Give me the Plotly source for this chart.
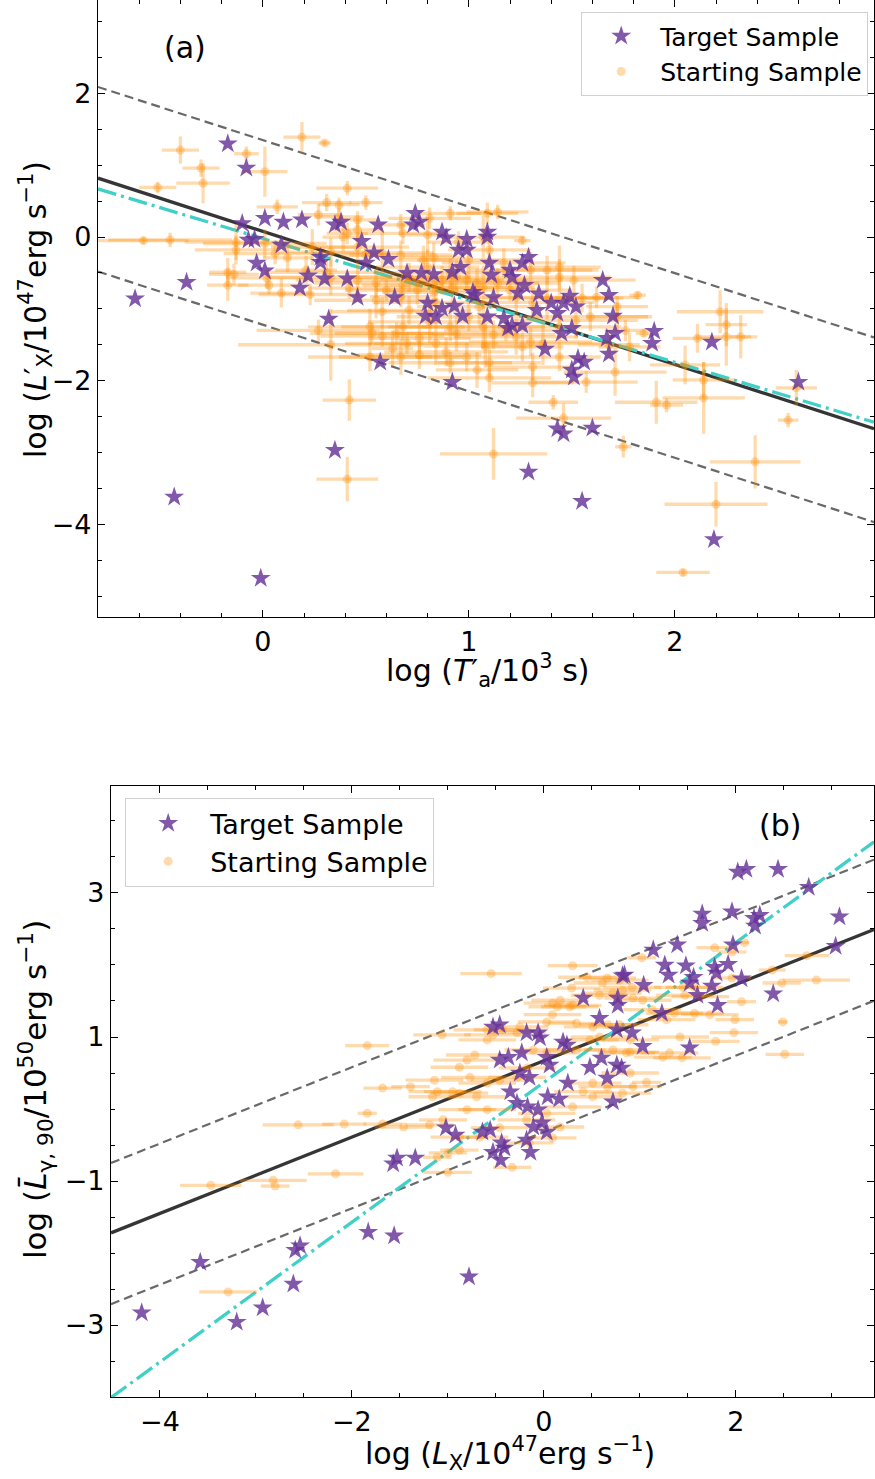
import numpy as np
import plotly.graph_objects as go

# ---------------- Panel (a) data ----------------
a_start_x = [-0.40,-0.30,-0.29,-0.51,-0.58,-0.08,0.01,0.19,0.30,0.41,
             0.07,0.31,0.37,0.50,-0.17,-0.17,-0.14,0.02,0.03,0.09,
             0.06,0.01,0.21,0.23,0.27,0.50,0.41,0.37,0.58,0.53,
             0.65,0.60,0.27,0.46,0.39,0.46,0.67,0.68,0.91,0.80,
             0.12,0.42,0.67,0.68,0.75,0.83,0.78,0.83,0.33,0.58,
             0.70,0.76,0.42,0.41,0.63,1.12,1.41,1.46,1.75,1.10,
             1.31,1.57,1.71,1.91,1.96,2.05,2.14,2.14,2.39,2.20,
             2.04,2.55,2.59,2.11,2.25,2.32,2.22,2.25,1.82,1.76,
             1.26,1.14,1.09,0.95,1.55,1.62,1.72,1.72,1.85,1.68,
             1.78,1.26,1.31,1.08,1.44,
             0.91,0.94,0.99,1.04,1.07,1.14,1.20,1.23,1.31,1.38,
             1.05,1.00,1.07,1.12,1.18,1.23,1.30,1.36,1.44,1.52,
             1.59,1.44,1.51,1.44,1.38,1.30,1.10,1.07,1.00,1.17,
             0.99,1.04,1.10,0.91,0.52,0.68,0.81,0.91,0.55,0.71,
             0.84,0.87,0.92,0.71,0.80,0.58,0.67,0.46,0.55,0.31,
             0.33,0.52,0.67,0.76,0.84,0.89,0.94,0.33,0.24,0.46,
             -0.13,-0.13,-0.45,0.81]
a_start_y = [1.21,0.96,0.75,0.69,-0.05,1.16,0.91,1.39,1.31,0.68,
             0.42,0.48,0.45,0.48,-0.49,-0.67,-0.52,-0.57,-0.67,-0.78,
             -0.23,-0.09,-0.46,-0.80,-1.30,-0.25,0.05,0.28,-1.04,-1.34,
             -1.34,-0.74,0.31,0.24,0.00,0.10,0.17,0.05,0.33,0.03,
             -0.29,-0.71,-0.83,-0.67,-0.74,-0.77,-0.32,-0.28,-1.50,-1.38,
             -1.48,-1.41,-2.27,-3.37,-1.55,-3.02,-2.30,-2.52,-2.92,-1.96,
             -2.03,-2.02,-1.88,-2.30,-2.34,-1.78,-1.99,-2.24,-3.13,-3.72,
             -4.67,-2.55,-2.10,-1.41,-1.39,-1.39,-1.04,-1.22,-0.81,-1.30,
             -0.05,0.35,0.33,-0.07,-0.85,-0.84,-0.97,-1.11,-1.34,-1.50,
             -1.53,-1.53,-1.81,-1.52,-1.67,
             -0.50,-0.56,-0.60,-0.64,-0.70,-0.64,-0.74,-0.84,-0.91,-0.85,
             -0.97,-1.11,-1.25,-1.36,-1.30,-1.39,-1.46,-1.48,-1.25,-1.16,
             -1.11,-0.56,-0.60,-0.42,-0.46,-0.46,-0.18,0.00,-0.32,-0.36,
             -1.67,-1.85,-1.75,-1.75,-1.25,-1.25,-1.18,-1.25,-0.88,-1.02,
             -0.91,-0.60,-0.70,-0.56,-0.42,-0.22,-0.25,-0.60,-0.64,-0.49,
             -0.56,-1.67,-1.67,-1.64,-1.48,-1.60,-1.34,-0.21,-0.14,-0.14,
             -0.18,-0.07,-0.04,0.26]
a_start_xerr = [0.09,0.09,0.13,0.09,0.22,0.06,0.11,0.09,0.03,0.15,
                0.10,0.12,0.10,0.08,0.09,0.10,0.12,0.20,0.15,0.15,
                0.25,0.30,0.15,0.25,0.30,0.12,0.10,0.12,0.25,0.30,
                0.30,0.20,0.10,0.10,0.10,0.12,0.12,0.20,0.15,0.10,
                0.12,0.20,0.15,0.20,0.20,0.25,0.15,0.15,0.45,0.30,
                0.30,0.25,0.13,0.15,0.10,0.26,0.12,0.23,0.04,0.30,
                0.20,0.25,0.25,0.20,0.08,0.17,0.15,0.20,0.22,0.25,
                0.13,0.05,0.10,0.12,0.15,0.05,0.21,0.10,0.04,0.10,
                0.04,0.15,0.15,0.15,0.20,0.20,0.15,0.15,0.04,0.15,
                0.15,0.20,0.20,0.30,0.20,
                0.30,0.25,0.30,0.30,0.25,0.30,0.30,0.25,0.30,0.30,
                0.30,0.35,0.30,0.30,0.30,0.30,0.30,0.30,0.30,0.30,
                0.30,0.25,0.30,0.20,0.25,0.30,0.20,0.20,0.25,0.30,
                0.25,0.20,0.25,0.30,0.30,0.30,0.30,0.30,0.30,0.30,
                0.30,0.30,0.30,0.30,0.25,0.25,0.25,0.30,0.30,0.30,
                0.30,0.30,0.30,0.30,0.30,0.30,0.30,0.25,0.20,0.25,
                0.20,0.25,0.30,0.20]
a_start_yerr = [0.19,0.12,0.28,0.08,0.05,0.10,0.35,0.21,0.04,0.10,
                0.10,0.12,0.10,0.10,0.20,0.22,0.15,0.15,0.12,0.20,
                0.15,0.20,0.20,0.15,0.15,0.15,0.15,0.12,0.20,0.15,
                0.15,0.15,0.15,0.12,0.20,0.15,0.15,0.15,0.10,0.25,
                0.20,0.15,0.15,0.20,0.20,0.20,0.20,0.20,0.50,0.15,
                0.15,0.20,0.29,0.31,0.25,0.36,0.10,0.20,0.15,0.20,
                0.20,0.15,0.33,0.30,0.10,0.27,0.25,0.50,0.37,0.31,
                0.05,0.10,0.25,0.20,0.40,0.30,0.30,0.30,0.05,0.15,
                0.05,0.10,0.15,0.15,0.20,0.15,0.15,0.20,0.05,0.20,
                0.20,0.20,0.20,0.30,0.20,
                0.20,0.25,0.15,0.20,0.30,0.20,0.15,0.25,0.20,0.30,
                0.25,0.20,0.30,0.20,0.15,0.25,0.20,0.30,0.20,0.25,
                0.20,0.25,0.20,0.30,0.20,0.25,0.20,0.30,0.25,0.20,
                0.20,0.25,0.20,0.15,0.25,0.20,0.30,0.20,0.25,0.20,
                0.30,0.20,0.25,0.20,0.25,0.30,0.20,0.25,0.20,0.15,
                0.25,0.20,0.25,0.20,0.30,0.20,0.25,0.20,0.25,0.20,
                0.20,0.25,0.10,0.15]

a_target_x = [-0.62,-0.43,-0.37,-0.17,-0.08,-0.10,-0.07,-0.04,-0.03,0.01,
              -0.01,0.01,0.09,0.10,0.19,0.18,0.22,0.28,0.28,0.30,
              0.32,0.35,0.35,0.38,0.41,0.46,0.48,0.50,0.54,0.56,
              0.61,0.57,0.64,0.70,0.74,0.73,0.76,0.77,0.83,0.80,
              0.79,0.84,0.87,0.87,0.89,0.93,0.95,0.99,0.99,0.96,
              0.92,0.92,1.09,1.09,1.10,1.11,1.29,1.26,1.20,1.21,
              1.27,1.24,1.02,1.03,1.12,0.97,1.09,1.17,1.21,1.26,
              1.19,1.34,1.33,1.40,1.43,1.46,1.49,1.52,1.45,1.50,
              1.65,1.68,1.70,1.71,1.67,1.68,1.37,1.53,1.56,1.50,
              1.51,1.90,1.89,2.18,1.43,1.46,1.60,1.29,1.55,2.60,
              2.19]
a_target_y = [-0.86,-3.62,-0.63,1.30,0.96,0.19,-0.04,-0.03,-0.36,-0.47,
              -4.75,0.26,-0.11,0.21,0.24,-0.71,-0.54,-0.35,-0.28,-0.58,
              -1.14,-2.97,0.17,0.21,-0.58,-0.84,-0.06,-0.36,-0.22,0.17,
              -0.31,-1.74,-0.84,-0.50,0.33,0.17,0.21,-0.50,-0.52,-0.92,
              -1.10,-1.11,-0.99,0.07,-0.01,-0.96,-0.18,-0.18,-0.03,-0.42,
              -0.49,-2.02,0.07,0.00,-0.36,-0.53,-0.28,-0.36,-0.46,-0.56,
              -0.67,-0.78,-0.77,-0.81,-0.84,-1.10,-1.11,-1.13,-1.23,-1.23,
              -1.27,-0.79,-1.02,-0.92,-1.06,-0.92,-0.82,-0.97,-1.34,-1.27,
              -0.60,-0.81,-1.10,-1.34,-1.41,-1.63,-1.56,-1.69,-1.74,-1.85,
              -1.95,-1.31,-1.48,-1.46,-2.67,-2.74,-2.66,-3.27,-3.68,-2.02,
              -4.21]

# fit parameters (a): slope, intercept, scatter band; cyan alternative fit
a_fit = dict(slope=-0.926, intercept=0.079, band_up=1.27, band_lo=1.30)
a_fit2 = dict(slope=-0.862, intercept=-0.02)

# ---------------- Panel (b) data ----------------
b_start_x = [-2.56,-2.08,-1.68,-1.46,-3.47,-2.82,-2.80,-2.17,-3.29,-1.11,
             -1.84,-1.68,-1.39,-1.84,-1.14,-1.11,-0.95,-0.55,0.30,-1.06,
             -0.88,-0.80,-0.72,-0.59,-0.59,-0.53,-0.43,-0.28,-0.25,0.03,
             0.09,0.14,0.27,0.30,0.09,0.17,0.29,0.45,0.61,0.79,
             0.58,0.72,0.82,0.34,0.51,0.67,0.79,-0.77,-0.59,-0.46,
             -0.28,-0.17,-0.88,-0.70,-0.80,-0.59,-1.16,-1.19,-1.05,-0.88,
             -0.67,-0.46,-0.18,0.03,0.17,0.09,-1.00,-0.88,-0.33,0.30,
             0.51,0.41,0.51,0.66,0.82,0.93,0.72,0.86,0.90,0.34,
             0.48,0.58,-0.11,0.03,1.78,2.09,1.02,2.74,2.38,2.48,
             2.84,1.96,2.06,2.49,2.51,1.98,1.99,1.79,1.42,1.44,
             1.31,1.24,1.07,0.90,0.90,1.57,1.73,1.36,1.28,1.13,
             1.03,0.93,1.45,1.57,1.47,1.63,0.92,0.66,1.96,-1.00,
             -0.15]
b_start_y = [-0.22,-0.21,-0.21,-0.25,-1.06,-0.99,-1.07,-0.90,-2.54,-0.67,
             0.88,0.29,0.31,-0.06,0.40,0.24,0.24,1.88,1.99,1.03,
             0.58,0.68,0.75,0.96,1.10,1.03,1.10,1.06,1.14,1.21,
             1.31,1.42,1.42,1.44,1.47,1.51,1.68,1.83,1.75,1.79,
             1.58,1.61,1.65,1.19,1.14,1.17,1.17,0.44,0.36,0.40,
             0.44,0.57,0.22,0.17,-0.01,-0.01,0.17,-0.22,-0.15,-0.39,
             -0.39,-0.26,-0.15,-0.06,-0.25,-0.40,-0.61,-0.57,-0.81,0.03,
             0.17,0.24,0.36,0.31,0.22,0.31,0.82,0.78,0.96,0.82,
             0.96,1.00,0.82,0.78,2.24,2.31,2.10,2.13,1.93,1.75,
             1.79,1.82,1.49,1.21,0.76,1.06,1.24,0.94,1.00,0.71,
             0.78,0.72,0.37,0.50,0.79,1.33,1.31,1.33,1.24,1.38,
             1.51,1.54,1.69,1.69,1.58,1.56,1.69,1.82,2.18,-0.88,
             -0.47]
b_start_xerr = [0.37,0.23,0.20,0.30,0.32,0.35,0.15,0.29,0.30,0.15,
                0.23,0.20,0.20,0.10,0.30,0.30,0.30,0.32,0.26,0.30,
                0.30,0.35,0.30,0.30,0.35,0.30,0.30,0.30,0.30,0.30,
                0.30,0.30,0.30,0.30,0.30,0.30,0.30,0.30,0.30,0.30,
                0.30,0.30,0.30,0.30,0.30,0.30,0.30,0.30,0.30,0.30,
                0.30,0.30,0.30,0.30,0.30,0.30,0.25,0.25,0.25,0.30,
                0.30,0.30,0.30,0.30,0.25,0.25,0.20,0.20,0.20,0.30,
                0.30,0.30,0.30,0.30,0.30,0.30,0.30,0.30,0.30,0.30,
                0.30,0.30,0.30,0.30,0.19,0.05,0.15,0.23,0.14,0.20,
                0.35,0.20,0.15,0.05,0.20,0.25,0.20,0.25,0.30,0.30,
                0.30,0.30,0.15,0.30,0.30,0.30,0.30,0.30,0.30,0.30,
                0.30,0.30,0.30,0.30,0.30,0.30,0.30,0.30,0.15,0.25,
                0.25]

b_target_x = [-4.19,-3.58,-3.20,-2.93,-2.61,-2.59,-2.54,-1.83,-1.56,-1.57,
              -1.53,-1.34,-0.78,-1.02,-0.92,-0.64,-0.56,-0.44,-0.41,-0.53,
              -0.45,-0.18,-0.14,-0.11,-0.02,0.03,-0.35,-0.28,-0.17,-0.06,
              0.04,0.16,0.25,-0.25,-0.15,-0.46,-0.37,-0.23,0.03,0.06,
              -0.53,-0.46,-0.18,-0.06,-0.04,0.20,0.24,0.41,0.58,0.77,
              0.77,0.84,0.48,0.60,0.66,0.76,0.81,0.72,0.76,2.02,
              2.11,2.44,2.76,3.08,1.65,1.65,1.96,2.19,2.25,2.20,
              1.97,3.04,1.14,1.39,1.26,1.30,1.48,1.56,1.52,1.78,
              1.80,1.92,1.75,2.06,1.81,1.60,1.04,0.82,1.23,2.39,
              1.52,1.03,0.92]
b_target_y = [-2.83,-2.13,-2.96,-2.76,-2.43,-1.96,-1.90,-1.71,-1.76,-0.76,
              -0.68,-0.68,-2.33,-0.26,-0.36,-0.32,-0.29,-0.47,-0.54,-0.60,
              -0.71,-0.43,-0.60,-0.25,-0.19,-0.32,0.24,0.08,0.03,-0.01,
              0.17,0.14,0.36,0.50,0.44,0.68,0.72,0.78,0.72,0.61,
              1.14,1.17,1.06,1.06,0.99,0.93,0.89,1.54,1.26,1.54,
              1.44,1.86,0.58,0.71,0.43,0.61,0.57,0.10,1.10,3.29,
              3.33,3.33,3.08,2.67,2.71,2.58,2.74,2.65,2.69,2.54,
              2.28,2.26,2.21,2.28,2.00,1.86,1.99,1.83,1.75,1.97,
              1.89,2.01,1.71,1.81,1.44,1.58,1.72,1.85,1.33,1.60,
              0.85,0.87,1.06]

b_fit = dict(slope=0.530, intercept=0.67, band_up=0.97, band_lo=0.99)
b_fit2 = dict(slope=0.971, intercept=0.37)

# axis ranges
a_xrange = [-0.80, 2.967]
a_yrange = [-5.29, 3.30]
b_xrange = [-4.51, 3.44]
b_yrange = [-4.00, 4.486]

# ---------------- styles ----------------
FONT = "DejaVu Sans"
PURPLE = "rgba(102,51,153,0.82)"
ORANGE = "rgba(255,140,0,0.32)"
BLACK = "rgba(25,25,25,0.88)"
GRAY = "rgb(105,105,105)"
CYAN = "rgb(64,208,200)"

fig = go.Figure()


def add_panel(xr, fit, fit2, start_x, start_y, start_xerr, start_yerr,
              tx, ty, xa, ya, legend):
    xl = np.linspace(xr[0], xr[1], 50)
    yc = fit["intercept"] + fit["slope"] * xl
    for off, dash, col, w in [(fit["band_up"], "9px,5px", GRAY, 2.2),
                              (-fit["band_lo"], "9px,5px", GRAY, 2.2),
                              (0, "solid", BLACK, 3.3)]:
        fig.add_trace(go.Scatter(x=xl, y=yc + off, mode="lines",
                                 line=dict(color=col, width=w, dash=dash),
                                 showlegend=False, xaxis=xa, yaxis=ya,
                                 hoverinfo="skip"))
    fig.add_trace(go.Scatter(x=xl, y=fit2["intercept"] + fit2["slope"] * xl,
                             mode="lines",
                             line=dict(color=CYAN, width=3.3, dash="19px,5px,3px,5px"),
                             showlegend=False, xaxis=xa, yaxis=ya, hoverinfo="skip"))
    ex = dict(type="data", array=start_xerr, color=ORANGE, thickness=3.3, width=0)
    ey = None
    if start_yerr is not None:
        ey = dict(type="data", array=start_yerr, color=ORANGE, thickness=3.3, width=0)
    fig.add_trace(go.Scatter(x=start_x, y=start_y, mode="markers",
                             marker=dict(symbol="circle", size=9, color=ORANGE,
                                         line=dict(width=0)),
                             error_x=ex, error_y=ey, name="Starting Sample",
                             xaxis=xa, yaxis=ya, legend=legend, legendrank=2))
    fig.add_trace(go.Scatter(x=tx, y=ty, mode="markers",
                             marker=dict(symbol="star", size=15, color=PURPLE,
                                         line=dict(width=0)),
                             name="Target Sample", xaxis=xa, yaxis=ya,
                             legend=legend, legendrank=1))


add_panel(a_xrange, a_fit, a_fit2, a_start_x, a_start_y,
          a_start_xerr, a_start_yerr, a_target_x, a_target_y, "x", "y", "legend")
add_panel(b_xrange, b_fit, b_fit2, b_start_x, b_start_y,
          b_start_xerr, None, b_target_x, b_target_y, "x2", "y2", "legend2")

W, H = 875, 1479


def ax(rng, dom, dtick, tick0, mdtick, anchor):
    return dict(range=rng, domain=dom, dtick=dtick, tick0=tick0, anchor=anchor,
                showline=True, linecolor="black", linewidth=1.3, mirror="allticks",
                ticks="inside", ticklen=7, tickwidth=1.3, tickcolor="black",
                showgrid=False, zeroline=False,
                tickfont=dict(family=FONT, size=27, color="black"),
                minor=dict(ticks="inside", ticklen=4, tickwidth=1.1,
                           tickcolor="black", dtick=mdtick, tick0=0, showgrid=False))


legend_common = dict(bgcolor="rgba(255,255,255,0.8)", bordercolor="#d0d0d0",
                     borderwidth=1.2, traceorder="normal", tracegroupgap=0)

fig.update_layout(
    width=W, height=H, margin=dict(l=0, r=0, t=0, b=0),
    plot_bgcolor="white", paper_bgcolor="white",
    xaxis=ax(a_xrange, [98 / W, 874 / W], 1, 0, 0.2, "y"),
    yaxis=ax(a_yrange, [1 - 617 / H, 1.0], 2, 0, 0.5, "x"),
    xaxis2=ax(b_xrange, [111 / W, 874 / W], 2, 0, 0.5, "y2"),
    yaxis2=ax(b_yrange, [1 - 1397 / H, 1 - 786 / H], 2, 1, 0.5, "x2"),
    legend=dict(x=868 / W, y=1 - 12 / H, xanchor="right", yanchor="top",
                font=dict(family=FONT, size=25, color="black"), itemwidth=68,
                **legend_common),
    legend2=dict(x=125 / W, y=1 - 798 / H, xanchor="left", yanchor="top",
                 font=dict(family=FONT, size=27, color="black"), itemwidth=74,
                 **legend_common),
    showlegend=True,
)

ann_font = dict(family=FONT, size=30, color="black")
annotations = [
    dict(text="(a)", x=185 / W, y=1 - 47 / H, font=dict(family=FONT, size=30, color="black")),
    dict(text="(b)", x=780 / W, y=1 - 825 / H, font=dict(family=FONT, size=30, color="black")),
    dict(text="log (<i>T</i>′<sub>a</sub>/10<sup>3</sup> s)", x=488 / W, y=1 - 670 / H, font=ann_font),
    dict(text="log (<i>L</i>′<sub>X</sub>/10<sup>47</sup>erg s<sup>−1</sup>)", x=35 / W,
         y=1 - 310 / H, textangle=-90, font=ann_font),
    dict(text="log (<i>L</i><sub>X</sub>/10<sup>47</sup>erg s<sup>−1</sup>)", x=510 / W,
         y=1 - 1453 / H, font=ann_font),
    dict(text="log (<i>L̄</i><sub>γ, 90</sub>/10<sup>50</sup>erg s<sup>−1</sup>)", x=35 / W,
         y=1 - 1090 / H, textangle=-90, font=dict(family=FONT, size=31, color="black")),
]
for a in annotations:
    a.update(xref="paper", yref="paper", showarrow=False, xanchor="center", yanchor="middle")
fig.update_layout(annotations=annotations)

fig.write_html("out.html")
